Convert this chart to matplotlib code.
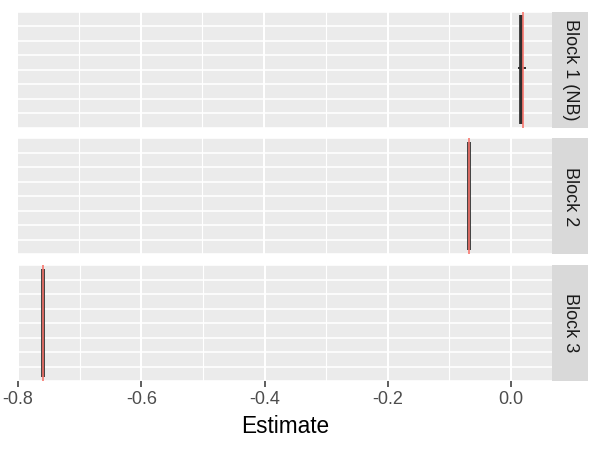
import matplotlib
matplotlib.use("Agg")
import matplotlib.pyplot as plt
import numpy as np

plt.rcParams["font.family"] = ["Liberation Sans", "DejaVu Sans"]

# data
blocks = ["Block 1 (NB)", "Block 2", "Block 3"]
estimates = [0.0155, -0.068, -0.760]
ref_lines = [0.020, -0.068, -0.760]
# vertical extent of the estimate bars (y units, panel runs 0..8)
bar_lo = [0.27, 0.27, 0.27]
bar_hi = [7.73, 7.73, 7.73]
# small horizontal errorbar shown in block 1
tick_block = [0]
tick_y = [4.1]
tick_lo = [0.011]
tick_hi = [0.025]

x_ticks = [-0.8, -0.6, -0.4, -0.2, 0.0]
x_minor = [-0.7, -0.5, -0.3, -0.1]
y_rows = np.arange(0, 9)

W, H = 600, 450
fig = plt.figure(figsize=(6, 4.5), dpi=100)

left_px, right_px = 18, 552
strip_w = 36
top_px = [11.5, 138.2, 265]
panel_h = 116

axes = []
for i, name in enumerate(blocks):
    b = 1 - (top_px[i] + panel_h) / H
    ax = fig.add_axes([left_px / W, b, (right_px - left_px) / W, panel_h / H])
    ax.set_facecolor("#EBEBEB")
    for s in ax.spines.values():
        s.set_visible(False)
    ax.set_xlim(-0.7984, 0.0664)
    ax.set_ylim(0, 8)

    for x in x_ticks:
        ax.axvline(x, color="white", lw=1.5, zorder=1)
    for x in x_minor:
        ax.axvline(x, color="white", lw=0.8, zorder=1)
    for y in y_rows:
        ax.axhline(y, color="white", lw=1.2, zorder=1)

    ax.vlines(estimates[i], bar_lo[i], bar_hi[i], color="#2E2E2E", lw=2.7, zorder=3)
    for k, bi in enumerate(tick_block):
        if bi == i:
            ax.hlines(tick_y[k], tick_lo[k], tick_hi[k], color="#2E2E2E", lw=1.4, zorder=3)
    ax.axvline(ref_lines[i], color="#F8766D", lw=1.2, zorder=4)

    ax.set_yticks([])
    if i < len(blocks) - 1:
        ax.set_xticks([])
    else:
        ax.set_xticks(x_ticks)
        ax.set_xticklabels([f"{v:.1f}" for v in x_ticks])
        ax.tick_params(axis="x", colors="#333333", labelcolor="#4D4D4D",
                       labelsize=13, length=4, width=1.1, pad=3)
        ax.set_xlabel("Estimate", fontsize=16.3, color="black", labelpad=5)

    sax = fig.add_axes([right_px / W, b, strip_w / W, panel_h / H])
    sax.set_facecolor("#D9D9D9")
    for s in sax.spines.values():
        s.set_visible(False)
    sax.set_xticks([])
    sax.set_yticks([])
    sax.text(0.5, 0.5, name, rotation=-90, ha="center", va="center",
             fontsize=13, color="#1A1A1A", transform=sax.transAxes)
    axes.append(ax)

fig.savefig("out.png", dpi=100)
